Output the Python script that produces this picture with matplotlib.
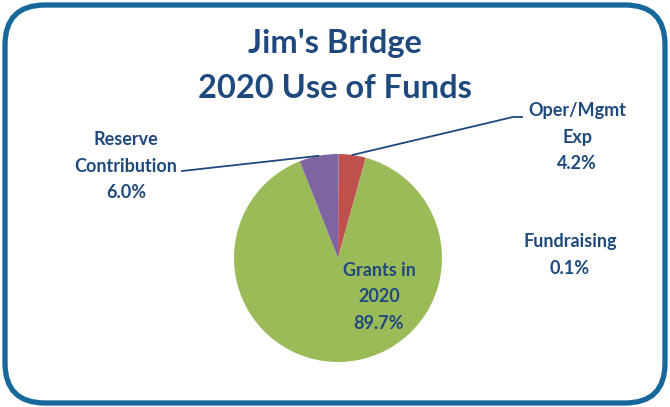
import numpy as np
import matplotlib.pyplot as plt
from matplotlib.patches import FancyBboxPatch

labels = ["Fundraising", "Oper/Mgmt\nExp", "Grants in\n2020", "Reserve\nContribution"]
shares = [0.1, 4.2, 89.7, 6.0]
colors = ["#4f81bd", "#c0504d", "#9bbb59", "#8064a2"]
txt = "#1f497d"

plt.rcParams['font.family'] = ['Lato', 'DejaVu Sans']

fig = plt.figure(figsize=(6.7, 4.07), dpi=100)
ax = fig.add_axes([0, 0, 1, 1])
ax.set_xlim(0, 670)
ax.set_ylim(0, 407)
ax.set_aspect('equal')
ax.axis('off')

H = 407
cx, cy, r = 338, H - 258, 104
wedges, _ = ax.pie(shares, colors=colors, center=(cx, cy), radius=r,
                   startangle=90, counterclock=False,
                   wedgeprops=dict(linewidth=0))
ax.set_xlim(0, 670)
ax.set_ylim(0, 407)

border = FancyBboxPatch((5, H - 403), 660, 398,
                        boxstyle="round,pad=0,rounding_size=40",
                        fill=False, edgecolor="#16679b", linewidth=3.8)
ax.add_patch(border)

ax.text(335, H - 44, "Jim's Bridge", ha='center', va='center',
        fontsize=23.5, fontweight='bold', color=txt)
ax.text(335, H - 89, "2020 Use of Funds", ha='center', va='center',
        fontsize=23.5, fontweight='bold', color=txt)

pct = [f"{v:.1f}%" for v in shares]
label_pos = [(570, H - 255), (577, H - 137), (379, H - 297), (126, H - 166)]
for lab, p, (x, y) in zip(labels, pct, label_pos):
    ax.text(x, y, lab + "\n" + p, ha='center', va='center', fontsize=13,
            fontweight='bold', color=txt, linespacing=1.65)

# leader lines
def edge_point(w):
    a = np.deg2rad((w.theta1 + w.theta2) / 2)
    return cx + r * np.cos(a), cy + r * np.sin(a)

ex, ey = edge_point(wedges[3])
ax.plot([182, ex], [H - 171, ey], color=txt, lw=1.3)
ex, ey = edge_point(wedges[1])
ax.plot([ex, 513, 522], [ey, H - 117, H - 117], color=txt, lw=1.3)

fig.savefig("out.png", dpi=100)
